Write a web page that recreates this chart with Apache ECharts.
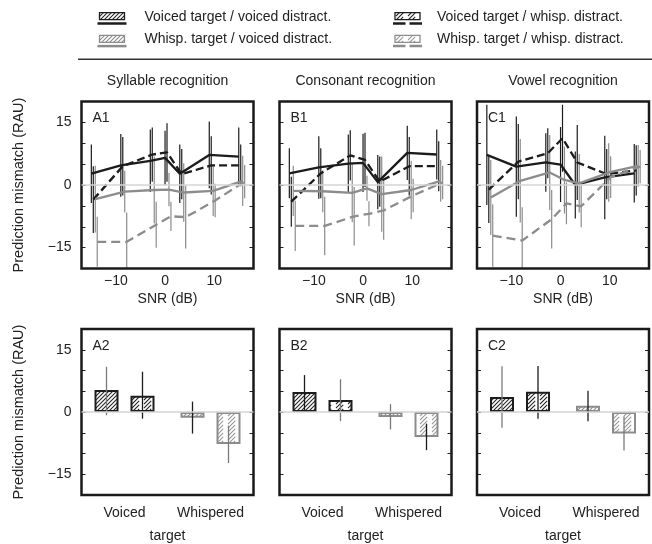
<!DOCTYPE html>
<html><head><meta charset="utf-8">
<script src="https://cdn.jsdelivr.net/npm/echarts@6/dist/echarts.min.js"></script>
<style>html,body{margin:0;padding:0;background:#fff}#c{width:652px;height:544px}</style>
</head><body><div id="c"></div>
<script>
// ---------------- DATA ----------------
const snr = [-15, -9, -3, 0, 3, 9, 15];
const panelTitles = ['Syllable recognition', 'Consonant recognition', 'Vowel recognition'];
const topPanelLabels = ['A1', 'B1', 'C1'];
const bottomPanelLabels = ['A2', 'B2', 'C2'];
const conditionNames = ['Voiced target / voiced distract.', 'Voiced target / whisp. distract.', 'Whisp. target / voiced distract.', 'Whisp. target / whisp. distract.'];
const targetCategories = ['Voiced', 'Whispered'];
const yTickLabels = [15, 0, -15];
const xTickLabels = [-10, 0, 10];
const yAxisName = 'Prediction mismatch (RAU)';
const xAxisNameTop = 'SNR (dB)';
const xAxisNameBottom = 'target';

// top row: means and error half-widths (vv = voiced target/voiced distract., vw, wv, ww)
const syllable_vv = [2.7, 4.7, 5.8, 6.5, 2.7, 7.2, 6.8];
const syllable_vw = [-3.5, 4.5, 7.3, 7.8, 2.6, 4.7, 4.7];
const syllable_wv = [-3.4, -1.6, -1.2, -1.1, -1.8, -1.4, 1.0];
const syllable_ww = [-13.6, -13.6, -9.5, -7.5, -7.7, -3.7, 0.8];
const syllable_vv_err = [7, 7.5, 7.5, 6.5, 7, 8, 7];
const syllable_vw_err = [8, 7, 6.5, 7, 6, 7, 5];
const syllable_wv_err = [8, 5, 8, 4, 7, 6, 6];
const syllable_ww_err = [6, 7, 5.5, 3.5, 7.5, 4, 4];

const consonant_vv = [2.8, 4.2, 5.1, 5.3, 0.7, 7.7, 7.3];
const consonant_vw = [-4.0, 2.8, 7.1, 6.0, 0.8, 4.5, 4.5];
const consonant_wv = [-1.4, -1.5, -1.9, -0.8, -2.2, -1.2, 1.0];
const consonant_ww = [-9.8, -9.8, -7.5, -6.9, -6.1, -2.5, 0.6];
const consonant_vv_err = [6, 7.5, 7, 7, 6.5, 6.5, 6];
const consonant_vw_err = [6, 6, 6, 6.5, 6, 7, 6];
const consonant_wv_err = [6, 5, 7, 3, 9, 7, 5];
const consonant_ww_err = [6, 7, 7, 3, 7, 4, 4];

const vowel_vv = [7.2, 4.4, 5.4, 4.9, 0.0, 1.8, 2.8];
const vowel_vw = [-1.1, 5.6, 7.6, 11.2, 5.4, 2.6, 3.5];
const vowel_wv = [-3.0, 1.0, 3.0, 1.2, 0.4, 3.0, 4.6];
const vowel_ww = [-12.1, -13.3, -8.2, -4.4, -5.1, 1.9, 4.4];
const vowel_vv_err = [12, 12, 7, 9, 8, 10, 7];
const vowel_vw_err = [8, 9, 6, 8, 9, 6, 6];
const vowel_wv_err = [9, 10, 9, 8, 7, 7, 5];
const vowel_ww_err = [7.5, 8, 7, 5, 5, 5, 4];

// bottom row: bars (order vv, vw, wv, ww) with error low / high
const syllableBars = [5.3, 3.9, -1.4, -7.7];
const syllableBarLow = [-0.8, -1.6, -5.2, -12.3];
const syllableBarHigh = [10.9, 9.7, 2.5, -3.3];
const consonantBars = [4.8, 2.9, -1.2, -6.0];
const consonantBarLow = [0.2, -2.2, -4.2, -9.2];
const consonantBarHigh = [8.9, 7.9, 1.9, -2.8];
const vowelBars = [3.6, 4.9, 1.5, -5.2];
const vowelBarLow = [-3.8, -1.6, -2.2, -9.3];
const vowelBarHigh = [11.0, 11.1, 5.1, -1.0];

// ---------------- STYLE ----------------
const FONT_FAMILY = 'Liberation Sans, Arial, Helvetica, sans-serif';
const TXT = '#222';
const BLACK = '#1c1c1c', GRAY = '#8c8c8c';
const gridLefts = [81.5, 279.5, 477];
const gridW = 172, gridH = 167, topY = 101.5, botY = 329;
const dodge = [0, 0.4, 0.8, 1.2];
const lineColors = [BLACK, BLACK, GRAY, GRAY];
const lineDash = [null, [8, 4], null, [9, 5]];
const barOffsets = [-18, 18, -18, 18];
const K = '#1c1c1c', G = '#7a7a7a';
const bottomErrColors = [[G, K, K, G], [K, G, G, K], [G, K, K, G]];

function hatch(color, dashed, lw) {
  const s = 12, c = document.createElement('canvas');
  c.width = s; c.height = s;
  const g = c.getContext('2d');
  g.fillStyle = '#fff'; g.fillRect(0, 0, s, s);
  g.strokeStyle = color; g.lineWidth = lw;
  const P = s * Math.SQRT2;
  if (dashed) g.setLineDash([P * 0.6, P * 0.4]);
  for (let k = -8; k <= 32; k += 4) {
    g.beginPath(); g.moveTo(-s, k + s); g.lineTo(2 * s, k - 2 * s); g.stroke();
  }
  return c;
}
const patterns = [
  {image: hatch('#222', false, 1.1), repeat: 'repeat'},
  {image: hatch('#222', true, 1.1), repeat: 'repeat'},
  {image: hatch('#8a8a8a', false, 1.1), repeat: 'repeat'},
  {image: hatch('#9a9a9a', true, 1.1), repeat: 'repeat'}
];
const barBorder = [BLACK, BLACK, GRAY, GRAY];

const topMeans = [
  [syllable_vv, syllable_vw, syllable_wv, syllable_ww],
  [consonant_vv, consonant_vw, consonant_wv, consonant_ww],
  [vowel_vv, vowel_vw, vowel_wv, vowel_ww]
];
const topErrs = [
  [syllable_vv_err, syllable_vw_err, syllable_wv_err, syllable_ww_err],
  [consonant_vv_err, consonant_vw_err, consonant_wv_err, consonant_ww_err],
  [vowel_vv_err, vowel_vw_err, vowel_wv_err, vowel_ww_err]
];
const botBars = [syllableBars, consonantBars, vowelBars];
const botLow = [syllableBarLow, consonantBarLow, vowelBarLow];
const botHigh = [syllableBarHigh, consonantBarHigh, vowelBarHigh];

const fmtNum = v => (v < 0 ? '\u2212' + Math.abs(v) : String(v));
const clampY = v => Math.max(-20, Math.min(20, v));

// ---------------- OPTION ----------------
const grid = [], xAxis = [], yAxis = [], series = [], graphic = [];
for (let r = 0; r < 2; r++) {
  for (let p = 0; p < 3; p++) {
    const gi = r * 3 + p;
    grid.push({left: gridLefts[p], top: r === 0 ? topY : botY, width: gridW, height: gridH,
      show: true, borderColor: '#1a1a1a', borderWidth: 2.5, backgroundColor: 'transparent', z: 5});
    const yBase = {type: 'value', gridIndex: gi, min: -20, max: 20, interval: 5,
      axisLine: {show: false, onZero: false}, splitLine: {show: false},
      axisTick: {show: true, inside: true, length: 4, lineStyle: {color: '#222', width: 1}}};
    yAxis.push(Object.assign({}, yBase, {position: 'left',
      axisLabel: {show: p === 0, margin: 10, fontSize: 14, color: TXT, fontFamily: FONT_FAMILY,
        formatter: v => yTickLabels.includes(v) ? fmtNum(v) : ''},
      name: p === 0 ? yAxisName : '', nameLocation: 'middle', nameGap: 55, nameRotate: 90,
      nameTextStyle: {fontSize: 14.5, color: TXT, fontFamily: FONT_FAMILY}}));
    yAxis.push(Object.assign({}, yBase, {position: 'right', axisLabel: {show: false}}));
    if (r === 0) {
      xAxis.push({type: 'value', gridIndex: gi, min: -17, max: 18,
        axisLine: {show: false, onZero: false}, splitLine: {show: false}, axisTick: {show: false},
        axisLabel: {customValues: xTickLabels, formatter: fmtNum, margin: 6, fontSize: 14, color: TXT, fontFamily: FONT_FAMILY},
        name: xAxisNameTop, nameLocation: 'middle', nameGap: 24,
        nameTextStyle: {fontSize: 14, color: TXT, fontFamily: FONT_FAMILY}});
    } else {
      xAxis.push({type: 'category', gridIndex: gi, data: targetCategories,
        axisLine: {show: false, onZero: false}, splitLine: {show: false}, axisTick: {show: false},
        axisLabel: {interval: 0, margin: 11, fontSize: 14, color: TXT, fontFamily: FONT_FAMILY, hideOverlap: false},
        name: xAxisNameBottom, nameLocation: 'middle', nameGap: 34,
        nameTextStyle: {fontSize: 14, color: TXT, fontFamily: FONT_FAMILY}});
    }
    const zeroLine = {silent: true, symbol: ['none', 'none'], label: {show: false}, animation: false,
      lineStyle: {color: '#d4d4d4', width: 1.5, type: 'solid'}, data: [{yAxis: 0}]};

    if (r === 0) {
      for (let c = 0; c < 4; c++) {
        const means = topMeans[p][c], errs = topErrs[p][c];
        series.push({type: 'custom', xAxisIndex: gi, yAxisIndex: 2 * gi, z: 2, clip: true,
          itemStyle: {color: lineColors[c]},
          markLine: c === 0 ? zeroLine : undefined,
          data: snr.map((x, i) => [x + dodge[c], means[i] - errs[i], means[i] + errs[i]]),
          renderItem: (params, api) => {
            const a = api.coord([api.value(0), clampY(api.value(1))]);
            const b = api.coord([api.value(0), clampY(api.value(2))]);
            return {type: 'line', shape: {x1: a[0], y1: a[1], x2: b[0], y2: b[1]},
              style: {stroke: api.visual('color'), lineWidth: 1.2}};
          }});
      }
      for (let c = 0; c < 4; c++) {
        const means = topMeans[p][c];
        series.push({type: 'line', name: conditionNames[c], xAxisIndex: gi, yAxisIndex: 2 * gi, z: 4,
          symbol: 'none', silent: true,
          lineStyle: {color: lineColors[c], width: 2.3, type: lineDash[c] || 'solid'},
          data: snr.map((x, i) => [x + dodge[c], means[i]])});
      }
    } else {
      const bars = botBars[p];
      const mk = idx => ({value: bars[idx], itemStyle: {color: patterns[idx], borderColor: barBorder[idx], borderWidth: 2}});
      series.push({type: 'bar', name: 'voiced distract.', xAxisIndex: gi, yAxisIndex: 2 * gi, z: 2,
        barWidth: 24, barGap: '50%', silent: true, markLine: zeroLine,
        data: [mk(0), mk(2)]});
      series.push({type: 'bar', name: 'whisp. distract.', xAxisIndex: gi, yAxisIndex: 2 * gi, z: 2,
        barWidth: 24, barGap: '50%', silent: true,
        data: [mk(1), mk(3)]});
      const cols = bottomErrColors[p];
      const lo = botLow[p], hi = botHigh[p];
      series.push({type: 'custom', xAxisIndex: gi, yAxisIndex: 2 * gi, z: 4, silent: true,
        data: [0, 1, 2, 3].map(k => [k < 2 ? 0 : 1, lo[k], hi[k]]),
        renderItem: (params, api) => {
          const k = params.dataIndex;
          const a = api.coord([api.value(0), clampY(api.value(1))]);
          const b = api.coord([api.value(0), clampY(api.value(2))]);
          const x = a[0] + barOffsets[k];
          return {type: 'line', shape: {x1: x, y1: a[1], x2: x, y2: b[1]},
            style: {stroke: cols[k], lineWidth: 1.3}};
        }});
    }
  }
}

// titles and panel labels
const FONT14 = '14px ' + FONT_FAMILY;
panelTitles.forEach((t, p) => {
  graphic.push({type: 'text', x: gridLefts[p] + gridW / 2, y: 81, silent: true,
    style: {text: t, font: FONT14, fill: TXT, textAlign: 'center', textVerticalAlign: 'middle'}});
  graphic.push({type: 'text', x: gridLefts[p] + 11, y: topY + 17, silent: true, z: 10,
    style: {text: topPanelLabels[p], font: FONT14, fill: TXT, textAlign: 'left', textVerticalAlign: 'middle'}});
  graphic.push({type: 'text', x: gridLefts[p] + 11, y: botY + 17, silent: true, z: 10,
    style: {text: bottomPanelLabels[p], font: FONT14, fill: TXT, textAlign: 'left', textVerticalAlign: 'middle'}});
});

// legend (custom drawn)
const legendPos = [[97.5, 16.7], [393, 16.7], [97.5, 39.3], [393, 39.3]];
const legendTextX = [144.5, 437, 144.5, 437];
const legendOrder = [0, 1, 2, 3];
legendOrder.forEach((c, j) => {
  const [x0, yc] = legendPos[j];
  const col = lineColors[c];
  graphic.push({type: 'rect', silent: true,
    shape: {x: x0 + 2, y: yc - 4, width: 25, height: 7},
    style: {fill: patterns[c], stroke: col, lineWidth: 1.3}});
  graphic.push({type: 'line', silent: true,
    shape: {x1: x0, y1: yc + 6.8, x2: x0 + 29, y2: yc + 6.8},
    style: {stroke: col, lineWidth: 2.5, lineDash: lineDash[c] ? [12.5, 4] : null}});
  graphic.push({type: 'text', x: legendTextX[j], y: yc, silent: true,
    style: {text: conditionNames[c], font: FONT14, fill: TXT, textAlign: 'left', textVerticalAlign: 'middle'}});
});
graphic.push({type: 'line', silent: true, shape: {x1: 78, y1: 59.3, x2: 652, y2: 59.3},
  style: {stroke: '#333', lineWidth: 1.5}});

const chart = echarts.init(document.getElementById('c'), null, {renderer: 'canvas'});
chart.setOption({animation: false, backgroundColor: '#fff',
  textStyle: {fontFamily: FONT_FAMILY},
  grid, xAxis, yAxis, series, graphic});
</script>
</body></html>
